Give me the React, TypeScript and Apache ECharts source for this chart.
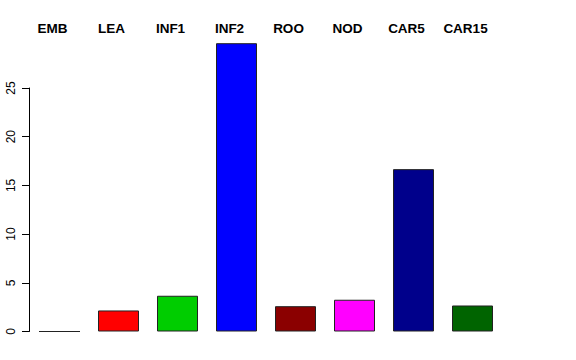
import React, { useEffect, useRef } from "react";
import * as echarts from "echarts";

const categories = ["EMB", "LEA", "INF1", "INF2", "ROO", "NOD", "CAR5", "CAR15"];
const values = [0, 2.16, 3.67, 29.6, 2.6, 3.26, 16.67, 2.67];
const colors = ["#000000", "#FF0000", "#00CD00", "#0000FF", "#8B0000", "#FF00FF", "#00008B", "#006400"];
const yTicks = [0, 5, 10, 15, 20, 25];

export default function App() {
  const ref = useRef<HTMLDivElement>(null);
  useEffect(() => {
    if (!ref.current) return;
    const chart = echarts.init(ref.current, null, { renderer: "svg" });
    chart.setOption({
      animation: false,
      backgroundColor: "#ffffff",
      grid: { left: 30, right: 74, top: 88, bottom: 28.5, containLabel: false },
      xAxis: {
        type: "category",
        data: categories,
        position: "top",
        offset: 45,
        axisLine: { show: false },
        axisTick: { show: false },
        axisLabel: {
          interval: 0,
          color: "#000",
          fontFamily: "Liberation Sans, Arial, sans-serif",
          fontWeight: "bold",
          fontSize: 13.5,
          margin: 8,
          padding: [0, 14, 0, 0],
        },
      },
      yAxis: {
        type: "value",
        min: yTicks[0],
        max: yTicks[yTicks.length - 1],
        interval: 5,
        offset: 1,
        splitLine: { show: false },
        axisLine: { show: true, lineStyle: { color: "#000", width: 1 } },
        axisTick: { show: true, length: 7, lineStyle: { color: "#000" } },
        axisLabel: {
          rotate: 90,
          color: "#000",
          fontFamily: "Liberation Sans, Arial, sans-serif",
          fontSize: 12,
          margin: 12,
        },
      },
      series: [
        {
          type: "bar",
          clip: false,
          barWidth: 41,
          data: values.map((v, i) => ({
            value: v,
            itemStyle: { color: colors[i], borderColor: "#222", borderWidth: 1 },
          })),
        },
      ],
    });
    return () => chart.dispose();
  }, []);
  return <div ref={ref} style={{ width: 576, height: 360, position: "absolute", left: 0, top: 0 }} />;
}
